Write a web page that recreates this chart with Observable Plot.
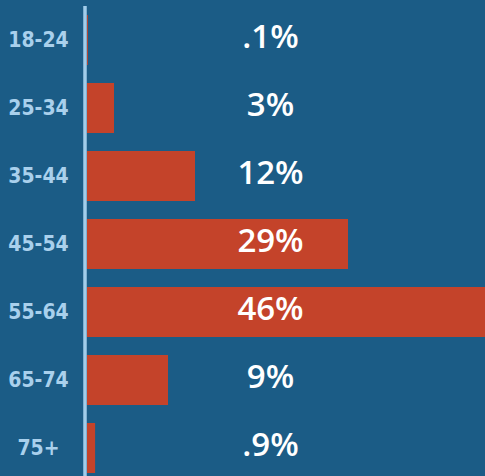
<!DOCTYPE html>
<html>
<head>
<meta charset="utf-8">
<script src="https://cdn.jsdelivr.net/npm/d3@7"></script>
<script src="https://cdn.jsdelivr.net/npm/@observablehq/plot@0.6"></script>
<style>
  html, body { margin: 0; padding: 0; background: #1b5c86; overflow: hidden; }
  g[aria-label="y-axis tick label"] text { font-stretch: condensed; }
</style>
</head>
<body>
<div id="chart"></div>
<script>
const ages = ["18-24", "25-34", "35-44", "45-54", "55-64", "65-74", "75+"];
const values = [0.1, 3, 12, 29, 46, 9, 0.9];
const valueLabels = [".1%", "3%", "12%", "29%", "46%", "9%", ".9%"];

const data = ages.map((a, i) => ({age: a, value: values[i], label: valueLabels[i]}));

const chart = Plot.plot({
  width: 485,
  height: 476,
  marginLeft: 87,
  marginRight: 0,
  marginTop: 6,
  marginBottom: 0,
  style: {background: "#1b5c86", overflow: "hidden"},
  x: {domain: [0, 46], range: [87, 501], axis: null},
  y: {domain: ages, range: [5, 482], paddingInner: 0.27, paddingOuter: 0.135, label: null},
  marks: [
    Plot.barX(data, {x: "value", y: "age", fill: "#c4432a", clip: true}),
    Plot.ruleX([0], {stroke: "#a2cdea", strokeWidth: 3.5, dx: -2.5}),
    Plot.axisY({
      tickSize: 0,
      tickPadding: 49,
      textAnchor: "middle",
      fill: "#a9d0ec",
      fontSize: 21,
      fontWeight: "bold",
      fontFamily: "DejaVu Sans Condensed, DejaVu Sans, sans-serif",
      label: null
    }),
    Plot.text(data, {
      y: "age",
      text: "label",
      frameAnchor: "middle",
      dx: -16,
      dy: -3,
      fill: "white",
      fontSize: 33,
      fontWeight: 600,
      fontFamily: "Open Sans"
    })
  ]
});
document.getElementById("chart").append(chart);
</script>
</body>
</html>
